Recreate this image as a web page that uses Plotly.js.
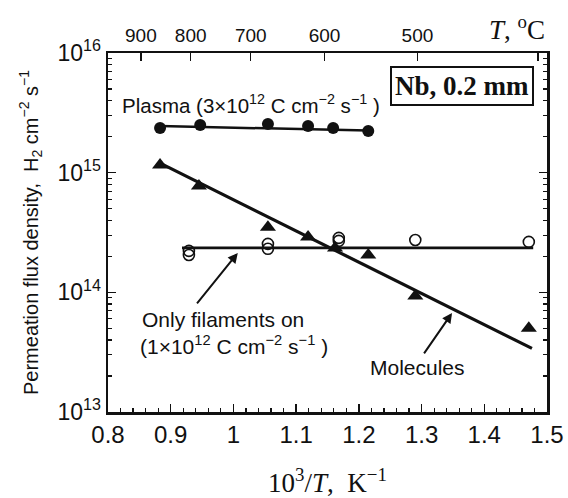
<!DOCTYPE html>
<html>
<head>
<meta charset="utf-8">
<script src="https://cdn.plot.ly/plotly-3.0.1.min.js"></script>
<style>html,body{margin:0;padding:0;background:#fff;}#chart{width:568px;height:498px;}</style>
</head>
<body>
<div id="chart"></div>
<script>
// Plasma (filled circles)
const plasmaX = [0.883, 0.947, 1.055, 1.119, 1.159, 1.215];
const plasmaY = [2.36e15, 2.50e15, 2.55e15, 2.45e15, 2.36e15, 2.23e15];
const plasmaFitX = [0.883, 1.215];
const plasmaFitY = [2.45e15, 2.25e15];

// Molecules (filled triangles)
const molX = [0.883, 0.945, 1.055, 1.119, 1.162, 1.215, 1.290, 1.471];
const molY = [1.16e15, 7.75e14, 3.5e14, 2.9e14, 2.35e14, 2.05e14, 9.3e13, 5.0e13];
const molFitX = [0.883, 1.476];
const molFitY = [1.2e15, 3.4e13];

// Only filaments on (open circles)
const filX = [0.929, 0.929, 1.055, 1.055, 1.168, 1.168, 1.290, 1.471];
const filY = [2.22e14, 2.05e14, 2.54e14, 2.31e14, 2.85e14, 2.69e14, 2.74e14, 2.64e14];
const filFitX = [0.918, 1.478];
const filFitY = [2.35e14, 2.35e14];

// Axis tick labels
const bottomTicks = [0.8, 0.9, 1.0, 1.1, 1.2, 1.3, 1.4, 1.5];
const bottomLabels = ['0.8', '0.9', '1', '1.1', '1.2', '1.3', '1.4', '1.5'];
const topTempsC = [900, 800, 700, 600, 500, 400];
const topLabels = ['900', '800', '700', '600', '500', ''];
const leftTicks = [1e13, 1e14, 1e15, 1e16];
const leftLabels = ['10<sup>13</sup>', '10<sup>14</sup>', '10<sup>15</sup>', '10<sup>16</sup>'];

const topTickVals = topTempsC.map(t => 1000 / (t + 273.15));

const black = '#111';

const traces = [
  {x: plasmaFitX, y: plasmaFitY, mode: 'lines', line: {color: black, width: 2.5}, hoverinfo: 'skip'},
  {x: plasmaX, y: plasmaY, mode: 'markers', marker: {symbol: 'circle', size: 12, color: black}},
  {x: molFitX, y: molFitY, mode: 'lines', line: {color: black, width: 3.2}, hoverinfo: 'skip'},
  {x: molX, y: molY, mode: 'markers', marker: {symbol: 'triangle-up', size: 14, color: black}},
  {x: filFitX, y: filFitY, mode: 'lines', line: {color: black, width: 2.8}, hoverinfo: 'skip'},
  {x: filX, y: filY, mode: 'markers', marker: {symbol: 'circle-open', size: 11, color: black, line: {width: 1.6, color: black}}},
  {x: [1.0], y: [1e15], xaxis: 'x2', mode: 'markers', marker: {opacity: 0}, hoverinfo: 'skip'}
];

const sans = 'Arial, Liberation Sans, sans-serif';
const serif = 'Times New Roman, Liberation Serif, serif';

const layout = {
  width: 568, height: 498,
  margin: {l: 108, r: 21, t: 53, b: 86},
  paper_bgcolor: '#fff', plot_bgcolor: '#fff',
  showlegend: false,
  xaxis: {
    range: [0.8, 1.5], tickvals: bottomTicks, ticktext: bottomLabels,
    ticks: 'inside', ticklen: 8, tickwidth: 1.5, tickcolor: black,
    minor: {dtick: 0.02, ticks: 'inside', ticklen: 4, tickwidth: 1.2, tickcolor: black, showgrid: false},
    showline: true, linewidth: 2.5, linecolor: black, mirror: true,
    showgrid: false, zeroline: false,
    tickfont: {family: sans, size: 24, color: black},
    title: {text: '10<sup>3</sup>/<i>T</i>,  K<sup>\u22121</sup>', font: {family: serif, size: 27, color: black}, standoff: 26}
  },
  xaxis2: {
    overlaying: 'x', side: 'top', range: [0.8, 1.5],
    tickvals: topTickVals, ticktext: topLabels,
    ticks: 'inside', ticklen: 8, tickwidth: 1.5, tickcolor: black,
    ticklabelstandoff: 6,
    showline: false, showgrid: false, zeroline: false,
    tickfont: {family: sans, size: 19, color: black}
  },
  yaxis: {
    type: 'log', range: [13, 16], tickvals: leftTicks, ticktext: leftLabels,
    ticks: 'inside', ticklen: 8, tickwidth: 1.5, tickcolor: black,
    minor: {dtick: 'D1', ticks: 'inside', ticklen: 4, tickwidth: 1.2, tickcolor: black, showgrid: false},
    showline: true, linewidth: 2.5, linecolor: black, mirror: 'ticks',
    showgrid: false, zeroline: false,
    tickfont: {family: sans, size: 23, color: black},
    title: {text: 'Permeation flux density,  H<sub>2</sub> cm<sup>\u22122</sup> s<sup>\u22121</sup>', font: {family: sans, size: 20, color: black}, standoff: 14}
  },
  annotations: [
    {xref: 'paper', yref: 'paper', x: 0.027, y: 0.858, xanchor: 'left', yanchor: 'middle', showarrow: false,
     text: 'Plasma (3\u00d710<sup>12</sup> C cm<sup>\u22122</sup> s<sup>\u22121</sup> )', font: {family: sans, size: 20.5, color: black}},
    {xref: 'paper', yref: 'paper', x: 0.806, y: 0.908, xanchor: 'center', yanchor: 'middle', showarrow: false,
     text: '<b>Nb, 0.2 mm</b>', font: {family: serif, size: 27, color: black},
     bordercolor: black, borderwidth: 2, borderpad: 3, bgcolor: '#fff'},
    {xref: 'paper', yref: 'paper', x: 0.073, y: 0.259, xanchor: 'left', yanchor: 'middle', showarrow: false,
     text: 'Only filaments on', font: {family: sans, size: 21, color: black}},
    {xref: 'paper', yref: 'paper', x: 0.068, y: 0.188, xanchor: 'left', yanchor: 'middle', showarrow: false,
     text: '(1\u00d710<sup>12</sup> C cm<sup>\u22122</sup> s<sup>\u22121</sup> )', font: {family: sans, size: 21, color: black}},
    {xref: 'paper', yref: 'paper', x: 0.704, y: 0.125, xanchor: 'center', yanchor: 'middle', showarrow: false,
     text: 'Molecules', font: {family: sans, size: 21, color: black}},
    {xref: 'paper', yref: 'paper', x: 1.0, y: 1.07, xanchor: 'right', yanchor: 'middle', showarrow: false,
     text: '<i>T</i>, <sup>o</sup>C', font: {family: serif, size: 27, color: black}},
    {xref: 'x', yref: 'y', x: 1.007, y: 14.329, ax: -42, ay: 52, showarrow: true, text: '',
     arrowhead: 2, arrowsize: 1, arrowwidth: 2, arrowcolor: black},
    {xref: 'x', yref: 'y', x: 1.3486, y: 13.828, ax: -29, ay: 42, showarrow: true, text: '',
     arrowhead: 2, arrowsize: 1, arrowwidth: 2, arrowcolor: black}
  ]
};

Plotly.newPlot('chart', traces, layout, {staticPlot: true, displayModeBar: false});
</script>
</body>
</html>
